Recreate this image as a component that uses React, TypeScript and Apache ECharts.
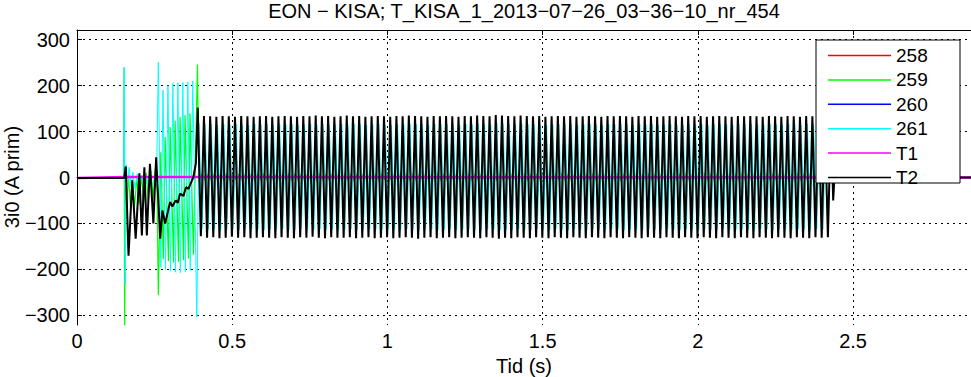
import React, { useEffect, useRef } from "react";
import * as echarts from "echarts";

const FONT = "'Liberation Sans', Arial, Helvetica, sans-serif";
const TITLE = "EON \u2212 KISA; T_KISA_1_2013\u221207\u221226_03\u221236\u221210_nr_454";
const X_NAME = "Tid (s)";
const Y_NAME = "3i0 (A prim)";
const SERIES_NAMES = ["258", "259", "260", "261", "T1", "T2"];
const SERIES_COLORS = ["#ff0000", "#00ff00", "#0000ff", "#00ffff", "#ff00ff", "#000000"];
const Y_TICKS = [-300, -200, -100, 0, 100, 200, 300];
const X_MAX = 2.88;
const Y_LIMIT = 321;
const STEP = 0.01; // time between consecutive extremes (half of the 50 Hz period)

// 258 and 260: flat, hidden underneath the others
const s258: number[][] = [[0, 0], [2.88, 0]];
const s260: number[][] = [[0, 0], [2.88, 0]];

// 259 (green)
const s259Transient: number[][] = [
  [0, 0], [0.15, 0], [0.1515, 239], [0.1535, -330], [0.156, -20], [0.16, -60], [0.166, 5], [0.172, -62],
  [0.178, -5], [0.185, -65], [0.193, 0], [0.2, -58], [0.208, 5], [0.215, -55], [0.223, 10], [0.23, -52],
  [0.238, 15], [0.245, -45], [0.252, 20], [0.258, -30], [0.262, -256], [0.27, 55], [0.278, -178],
  [0.284, 88], [0.2945, -182], [0.3, 110], [0.311, -185], [0.316, 124], [0.327, -184], [0.332, 132],
  [0.343, -180], [0.348, 136], [0.359, -176], [0.364, 140], [0.375, -168], [0.388, 246],
];
const s259SteadyStart = 0.393;
const s259Steady = [
  -12, 9, -7, 8, -6, 9, -7, 8, -6, 10, -7, 8, -6, 9, -7, 8, -5, 9, -7, 8,
  -6, 9, -7, 8, -6, 9, -8, 8, -6, 9, -7, 9, -6, 8, -7, 9, -6, 8, -7, 9,
  -6, 8, -7, 9, -6, 8, -7, 9, -5, 8, -7, 9, -6, 8, -7, 9, -6, 8, -7, 9,
  -6, 9, -7, 8, -6, 9, -7, 8, -6, 9, -7, 8, -6, 9, -7, 8, -6, 9, -7, 8,
  -7, 9, -6, 8, -7, 9, -6, 8, -7, 9, -6, 8, -7, 9, -6, 8, -7, 9, -6, 8,
  -6, 9, -7, 8, -6, 9, -7, 8, -6, 9, -7, 8, -6, 9, -7, 8, -6, 9, -7, 8,
  -7, 8, -6, 9, -7, 8, -6, 9, -7, 8, -6, 9, -7, 8, -6, 9, -7, 8, -6, 9,
  -6, 9, -7, 8, -6, 9, -7, 8, -6, 9, -7, 8, -6, 9, -7, 8, -6, 9, -7, 8,
  -7, 8, -6, 9, -7, 8, -6, 9, -7, 8, -6, 9, -7, 8, -6, 9, -7, 8, -6, 9,
  -6, 9, -7, 8, -6, 9, -7, 8, -6, 9, -7, 8, -6, 9, -7, 8, -6, 9, -7, 8,
  -6, 9, -7, 8, -4,
];
const s259Tail: number[][] = [[2.44, 0], [2.88, 0]];

// 261 (cyan)
const s261Transient: number[][] = [
  [0, -1], [0.15, -1], [0.1525, 240], [0.1555, -232], [0.159, 28], [0.163, -22], [0.168, 22], [0.174, -20],
  [0.18, 12], [0.187, -24], [0.194, 8], [0.201, -22], [0.208, 4], [0.215, -20], [0.222, 2], [0.229, -18],
  [0.236, 0], [0.243, -16], [0.25, -2], [0.256, -14], [0.262, 251], [0.27, -195], [0.277, 190],
  [0.285, -200], [0.293, 200], [0.301, -204], [0.309, 205], [0.317, -206], [0.325, 206], [0.333, -207],
  [0.341, 207], [0.349, -205], [0.357, 208], [0.365, -203], [0.373, 210], [0.386, -304],
];
const s261SteadyStart = 0.393;
const s261Steady = [
  118, -112, 115, -113, 116, -112, 114, -114, 116, -113, 115, -112, 116, -114, 115, -113, 114, -112, 116, -113,
  115, -114, 116, -112, 114, -113, 116, -112, 115, -114, 116, -113, 114, -112, 115, -113, 116, -114, 115, -112,
  116, -113, 114, -112, 115, -114, 116, -113, 115, -112, 117, -114, 116, -113, 114, -112, 115, -113, 116, -114,
  115, -112, 114, -113, 116, -114, 115, -112, 117, -113, 116, -114, 115, -113, 114, -112, 116, -114, 115, -113,
  116, -112, 115, -114, 114, -113, 116, -112, 115, -113, 117, -114, 116, -112, 115, -113, 118, -115, 117, -113,
  116, -114, 115, -112, 117, -113, 116, -114, 115, -112, 116, -113, 114, -114, 115, -112, 116, -113, 115, -114,
  116, -112, 114, -113, 115, -114, 116, -112, 115, -113, 114, -114, 116, -112, 115, -113, 116, -114, 115, -112,
  114, -113, 116, -114, 115, -112, 116, -113, 114, -114, 115, -112, 116, -113, 115, -114, 114, -112, 116, -113,
  115, -114, 116, -112, 114, -113, 115, -114, 116, -112, 115, -113, 114, -114, 116, -112, 115, -113, 116, -114,
  115, -112, 114, -113, 116, -114, 115, -112, 114, -113, 116, -114, 115, -112, 114, -113, 116, -114, 115, -112,
  116, -113, 115,
];
const s261Tail: number[][] = [[2.422, 0], [2.88, 0]];

// T1 (magenta)
const sT1: number[][] = [[0, -1], [0.16, 1], [0.4, 1], [2.88, 0]];

// T2 (black)
const sT2Transient: number[][] = [
  [0, -1], [0.152, -1], [0.157, 24], [0.166, -170], [0.178, -6], [0.189, -133], [0.201, 9], [0.209, -126],
  [0.217, 22], [0.225, -126], [0.235, 30], [0.246, -100], [0.255, 44], [0.268, -133], [0.275, -72],
  [0.284, -100], [0.3, -53], [0.307, -63], [0.318, -50], [0.325, -55], [0.332, -35], [0.343, -40],
  [0.351, -21], [0.359, -25], [0.368, -10], [0.375, 1], [0.383, 31],
];
const sT2SteadyStart = 0.389;
const sT2Steady = [
  152, -128, 134, -131, 133, -130, 132, -132, 134, -131, 133, -129, 132, -131, 134, -130, 133, -132, 132, -131,
  133, -130, 134, -131, 132, -132, 133, -130, 134, -131, 133, -132, 132, -130, 134, -131, 133, -129, 135, -131,
  133, -132, 134, -130, 132, -131, 133, -131, 135, -130, 133, -132, 134, -131, 132, -130, 133, -132, 134, -131,
  133, -130, 132, -132, 134, -131, 133, -130, 135, -131, 134, -133, 133, -131, 132, -130, 134, -132, 133, -131,
  134, -130, 133, -132, 132, -131, 134, -130, 133, -131, 135, -132, 134, -130, 133, -131, 136, -133, 135, -131,
  134, -132, 133, -130, 135, -131, 134, -132, 133, -130, 134, -131, 132, -132, 133, -130, 134, -131, 133, -132,
  134, -130, 132, -131, 133, -132, 134, -130, 133, -131, 132, -132, 134, -130, 133, -131, 134, -132, 133, -130,
  132, -131, 134, -132, 133, -130, 134, -131, 132, -132, 133, -130, 134, -131, 133, -132, 132, -130, 134, -131,
  133, -132, 134, -130, 132, -131, 133, -132, 134, -130, 133, -131, 132, -132, 134, -130, 133, -131, 134, -132,
  133, -130, 132, -131, 134, -132, 133, -130, 132, -131, 134, -132, 133, -130, 132, -131, 134, -132, 133, -130,
  133, -131, 134, -130, 133,
];
const sT2Tail: number[][] = [[2.436, -50], [2.44, -1], [2.88, 0]];

function build(transient: number[][], start: number, steady: number[], tail: number[][]) {
  const pts: number[][] = transient.slice();
  steady.forEach((v, i) => pts.push([+(start + i * STEP).toFixed(4), v]));
  return pts.concat(tail);
}

const fmtY = (v: number) => (v < 0 ? "\u2212" + Math.abs(v) : String(v));

export default function App() {
  const ref = useRef<HTMLDivElement>(null);
  useEffect(() => {
    document.body.style.margin = "0";
    if (!ref.current) return;
    const chart = echarts.init(ref.current, undefined, { renderer: "svg" });
    const seriesData = [
      s258,
      build(s259Transient, s259SteadyStart, s259Steady, s259Tail),
      s260,
      build(s261Transient, s261SteadyStart, s261Steady, s261Tail),
      sT1,
      build(sT2Transient, sT2SteadyStart, sT2Steady, sT2Tail),
    ];
    const widths = [1, 1.2, 1, 1, 2.4, 2];
    const axisLineStyle = { color: "#000", width: 1 };
    const option: any = {
      animation: false,
      backgroundColor: "#ffffff",
      textStyle: { fontFamily: FONT },
      grid: { left: 77, top: 30, right: 0, bottom: 52, containLabel: false, outerBoundsMode: "none" },
      xAxis: [
        {
          type: "value", min: 0, max: X_MAX, interval: 0.5, position: "bottom",
          name: X_NAME, nameLocation: "middle", nameGap: 25,
          nameTextStyle: { fontSize: 20, color: "#000", fontFamily: FONT },
          axisLine: { show: true, lineStyle: axisLineStyle },
          axisTick: { show: true, inside: true, length: 5, lineStyle: axisLineStyle },
          axisLabel: { fontSize: 20, color: "#000", margin: 6, fontFamily: FONT, showMaxLabel: false },
          splitLine: { show: true, lineStyle: { color: "#000", width: 1, type: [2, 4] } },
        },
        {
          type: "value", min: 0, max: X_MAX, interval: 0.5, position: "top",
          axisLine: { show: true, lineStyle: axisLineStyle },
          axisTick: { show: true, inside: true, length: 5, lineStyle: axisLineStyle },
          axisLabel: { show: false },
          splitLine: { show: false },
        },
      ],
      yAxis: {
        type: "value", min: -Y_LIMIT, max: Y_LIMIT,
        axisLine: { show: true, lineStyle: axisLineStyle },
        axisTick: { show: true, inside: true, length: 5, lineStyle: axisLineStyle, customValues: Y_TICKS },
        axisLabel: { fontSize: 20, color: "#000", margin: 7, fontFamily: FONT, customValues: Y_TICKS, formatter: fmtY },
        splitLine: { show: true, lineStyle: { color: "#000", width: 1, type: [2, 4] } },
      },
      legend: {
        data: SERIES_NAMES.map((n) => ({ name: n, icon: "rect" })),
        orient: "vertical", left: 816, top: 40, padding: [6, 0, 0, 12],
        itemGap: 5.4, itemWidth: 63, itemHeight: 1.5, selectedMode: false, z: 100,
        textStyle: { fontSize: 19, color: "#000", lineHeight: 19, fontFamily: FONT },
      },
      graphic: [
        {
          type: "rect", z: 50,
          shape: { x: 816, y: 40, width: 144, height: 143 },
          style: { fill: "#fff", stroke: "#000", lineWidth: 1 },
        },
        {
          type: "text", z: 50, x: 524, y: 11,
          style: { text: TITLE, fill: "#000", font: `20px ${FONT}`, textAlign: "center", textVerticalAlign: "middle" },
        },
        {
          type: "text", z: 50, x: 12, y: 177, rotation: Math.PI / 2,
          style: { text: Y_NAME, fill: "#000", font: `20px ${FONT}`, textAlign: "center", textVerticalAlign: "middle" },
        },
      ],
      series: SERIES_NAMES.map((name, i) => ({
        name, type: "line", data: seriesData[i], showSymbol: false, symbol: "none",
        color: SERIES_COLORS[i], clip: true,
        lineStyle: { color: SERIES_COLORS[i], width: widths[i] },
      })),
    };
    chart.setOption(option);
    return () => chart.dispose();
  }, []);
  return <div ref={ref} style={{ width: 971, height: 377 }} />;
}
